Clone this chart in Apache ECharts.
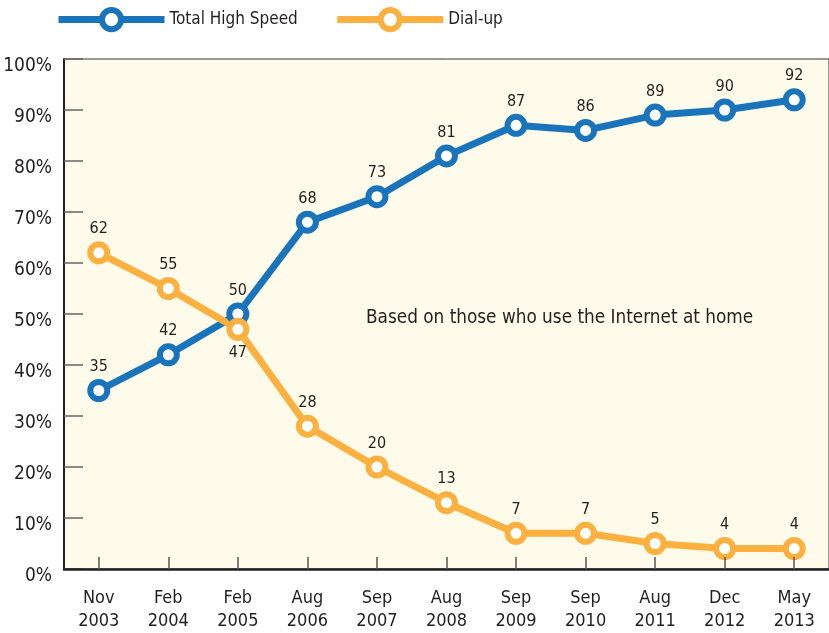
<!DOCTYPE html>
<html>
<head>
    <meta charset="utf-8" />
    <title>Home broadband vs dial-up</title>
    <script src="https://cdn.jsdelivr.net/npm/echarts@6/dist/echarts.min.js"></script>
    <style type="text/css">
        html, body { width: 100%; height: 100%; margin: 0; background: #fff; }
        #chart { width: 829px; height: 633px; }
    </style>
</head>
<body>
    <div id="chart"></div>
    <script>
        var categories = ['Nov\n2003', 'Feb\n2004', 'Feb\n2005', 'Aug\n2006', 'Sep\n2007', 'Aug\n2008',
            'Sep\n2009', 'Sep\n2010', 'Aug\n2011', 'Dec\n2012', 'May\n2013'];
        var highSpeed = [35, 42, 50, 68, 73, 81, 87, 86, 89, 90, 92];
        var dialUp = [62, 55, 47, 28, 20, 13, 7, 7, 5, 4, 4];

        var font = '"DejaVu Sans Condensed", "Liberation Sans Narrow", sans-serif';
        var blue = '#1a74bb';
        var orange = '#fbb040';

        var chart = echarts.init(document.getElementById('chart'));

        function lineSeries(name, data, color, labelPos) {
            return {
                name: name,
                type: 'line',
                data: data,
                symbol: 'circle',
                symbolSize: 17,
                lineStyle: { color: color, width: 7 },
                itemStyle: { color: '#fff', borderColor: color, borderWidth: 6 },
                label: {
                    show: true,
                    position: labelPos,
                    distance: 4,
                    color: '#231f20',
                    fontFamily: font,
                    fontSize: 16
                },
                emphasis: { disabled: true },
                z: 3
            };
        }

        var dialSeries = lineSeries('Dial-up', dialUp, orange, 'top');
        // the crossing point label sits under the marker
        dialSeries.data = dialUp.map(function (v, i) {
            return i === 2 ? { value: v, label: { position: 'bottom' } } : v;
        });

        chart.setOption({
            animation: false,
            textStyle: { fontFamily: font },
            legend: {
                left: 50,
                top: 2,
                itemWidth: 106,
                itemHeight: 24,
                itemGap: 36,
                lineStyle: { width: 7 },
                itemStyle: { borderWidth: 6 },
                textStyle: { fontFamily: font, fontSize: 17, color: '#231f20', padding: [0, 0, 10, 0] },
                data: ['Total High Speed', 'Dial-up']
            },
            grid: {
                left: 64,
                top: 59,
                bottom: 64,
                width: 770,
                show: true,
                backgroundColor: '#fefbea',
                borderColor: '#333',
                borderWidth: 1
            },
            xAxis: {
                type: 'category',
                data: categories,
                boundaryGap: true,
                z: 5,
                axisLine: { lineStyle: { color: '#231f20', width: 2.5 } },
                axisTick: { show: true, inside: true, alignWithLabel: true, length: 12, lineStyle: { color: '#555', width: 1.5 } },
                axisLabel: { color: '#231f20', fontFamily: font, fontSize: 18, lineHeight: 23, margin: 18 }
            },
            yAxis: {
                type: 'value',
                min: 0,
                max: 100,
                interval: 10,
                axisLine: { show: true, lineStyle: { color: '#231f20', width: 2 } },
                axisTick: { show: true, inside: true, length: 19, lineStyle: { color: '#666', width: 1.5 } },
                splitLine: { show: false },
                axisLabel: { color: '#231f20', fontFamily: font, fontSize: 19, margin: 12, verticalAlign: 'top', lineHeight: 14, formatter: '{value}%' }
            },
            graphic: [{
                type: 'text',
                left: 366,
                top: 309,
                style: {
                    text: 'Based on those who use the Internet at home',
                    fill: '#231f20',
                    font: '18.8px ' + font
                }
            }],
            series: [
                lineSeries('Total High Speed', highSpeed, blue, 'top'),
                dialSeries
            ]
        });
    </script>
</body>
</html>
